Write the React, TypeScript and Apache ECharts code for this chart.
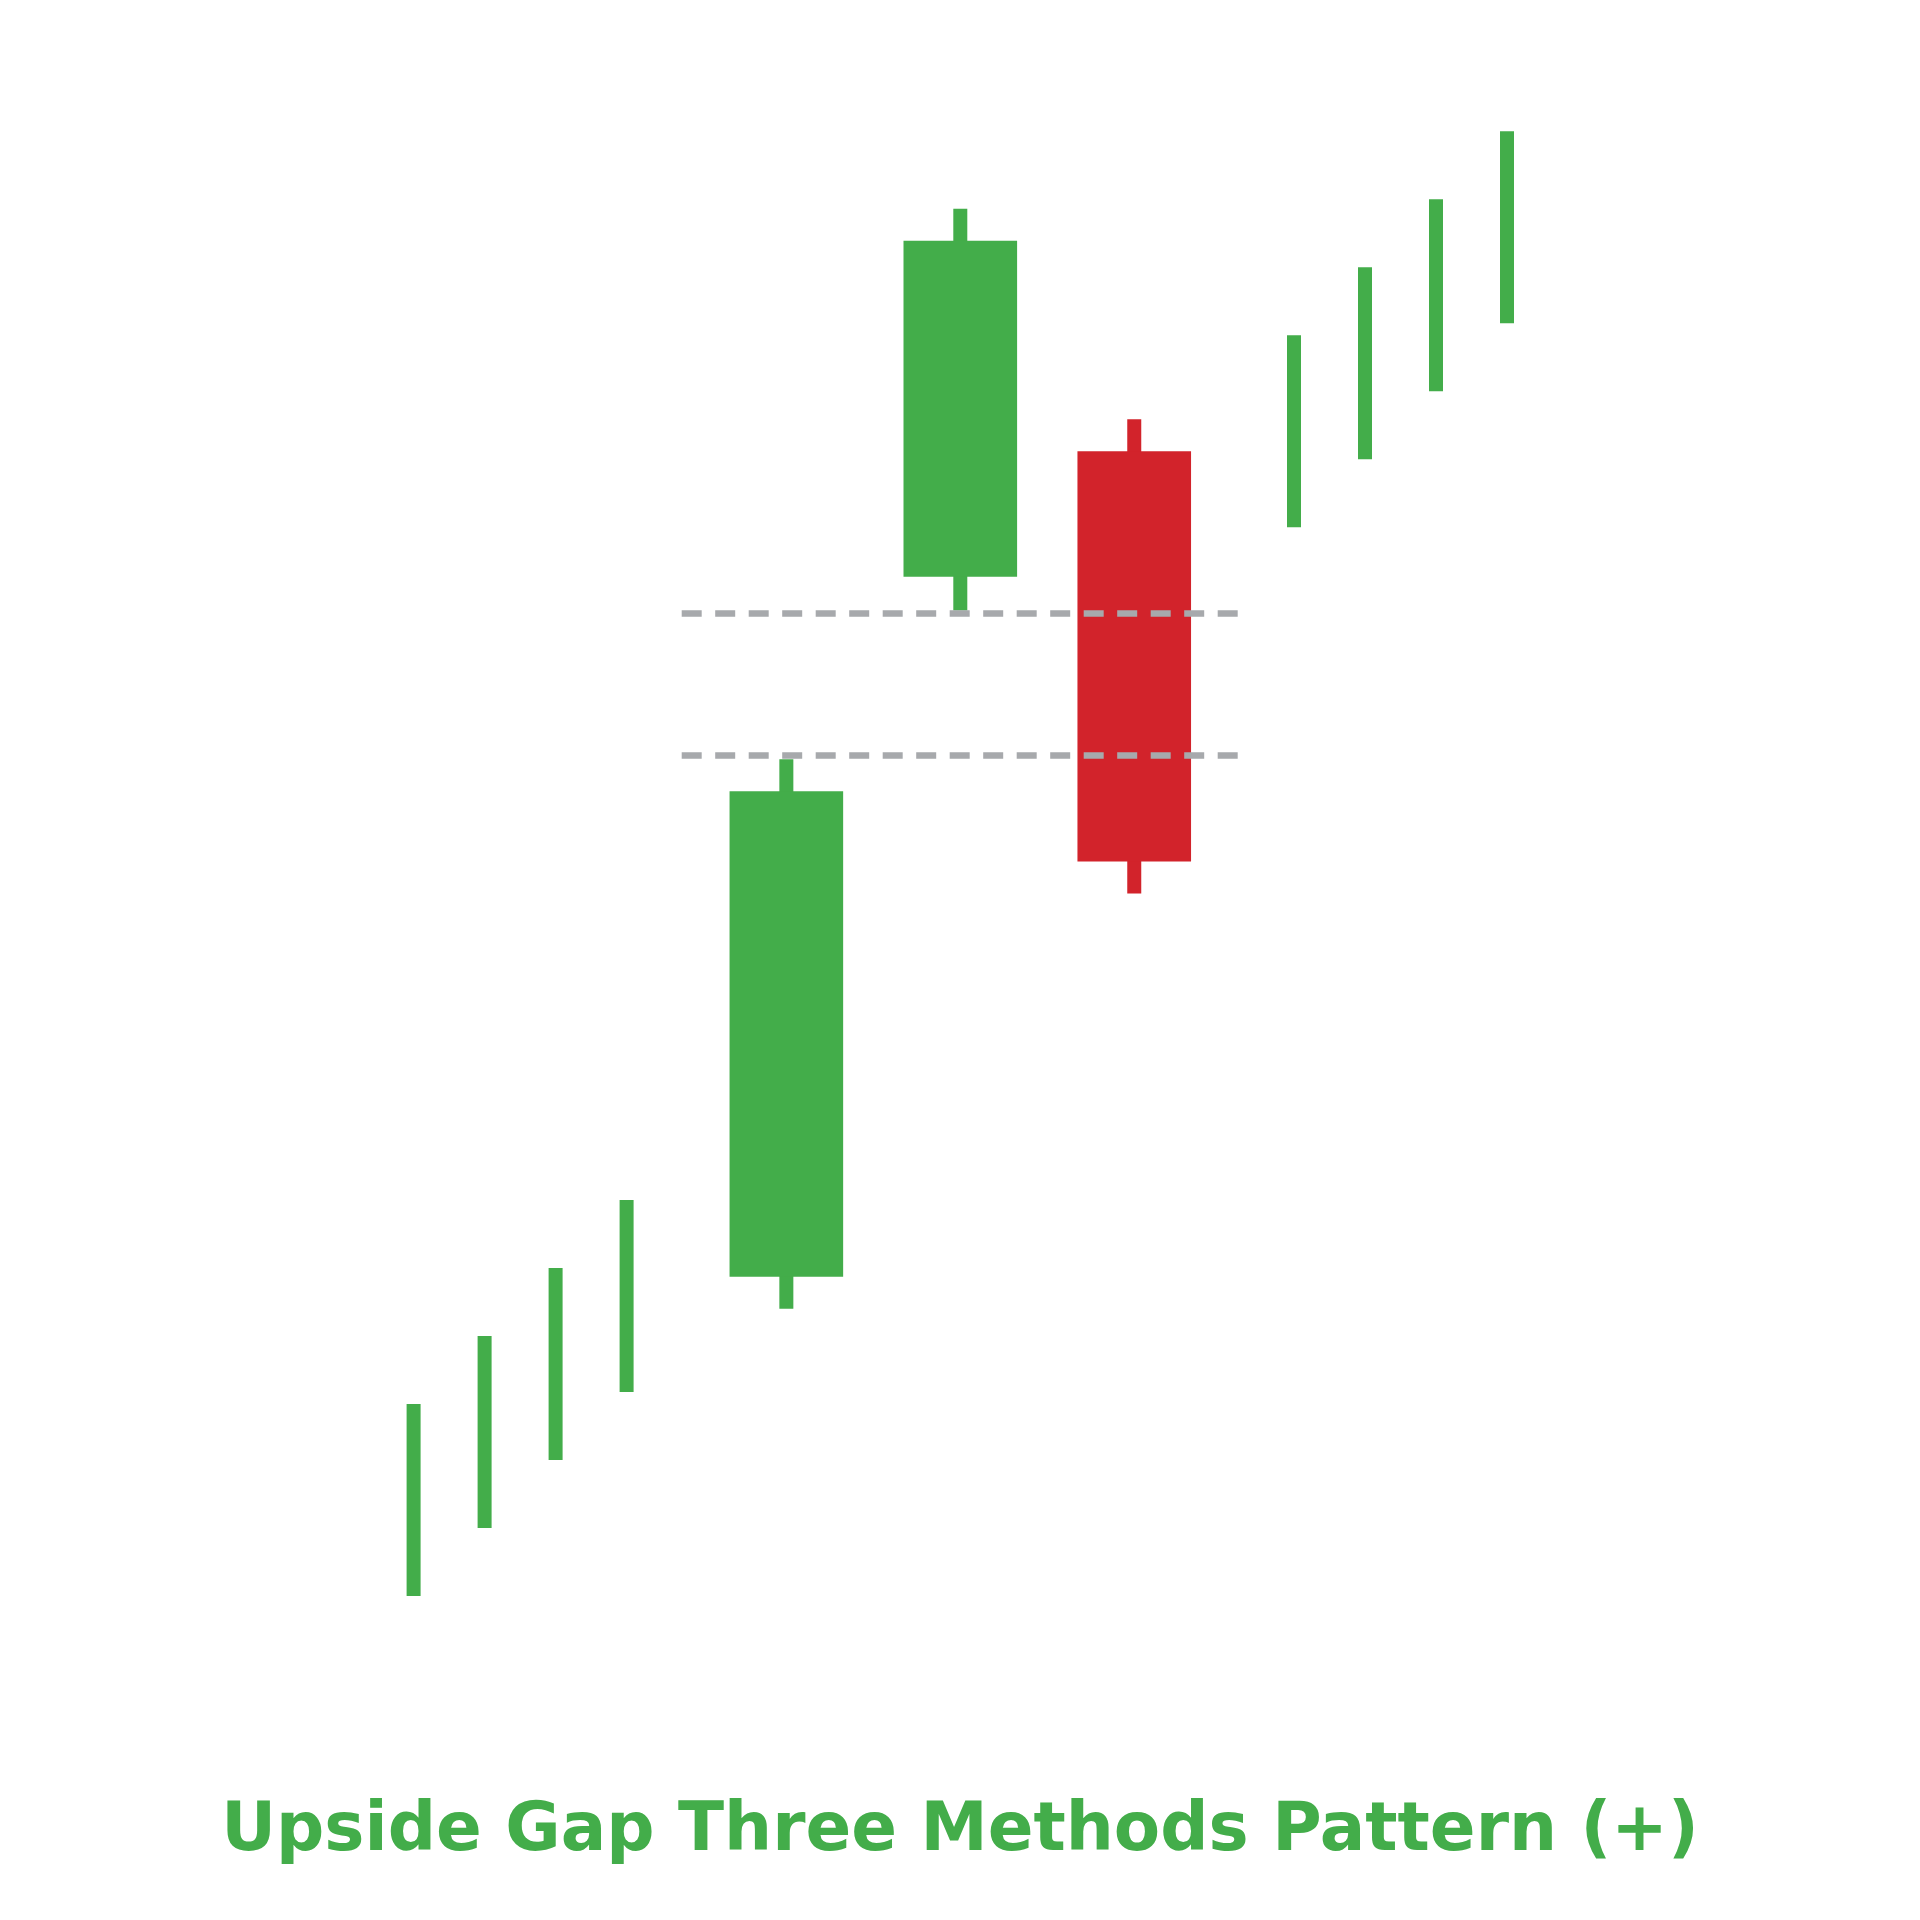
import React, { useEffect, useRef } from "react";
import * as echarts from "echarts";

// trend candles drawn as plain high-low lines
const trendX = [0, 1, 2, 3, 12.4, 13.4, 14.4, 15.4];
const trendLow = [6.5, 10.75, 15.0, 19.25, 73.3, 77.55, 81.8, 86.05];
const trendHigh = [18.5, 22.75, 27.0, 31.25, 85.3, 89.55, 93.8, 98.05];

// the three pattern candles
const patternX = [5.25, 7.7, 10.15];
const patternOpen = [26.45, 70.2, 78.05];
const patternClose = [56.8, 91.2, 52.4];
const patternLow = [24.45, 68.1, 50.4];
const patternHigh = [58.8, 93.2, 80.05];

// dashed gap levels
const gapLevels = [67.9, 59.05];
const gapFromX = 3.776;
const gapToX = 11.62;

const TITLE = "Upside Gap Three Methods Pattern (+)";
const GREEN = "#43ad4a";
const RED = "#d2232b";
const GRAY = "#a7a9ac";
const WICK = 14;

export default function App() {
  const ref = useRef<HTMLDivElement | null>(null);

  useEffect(() => {
    document.body.style.margin = "0";
    const chart = echarts.init(ref.current!, null, { renderer: "svg" });

    const trendData = trendX.map((x, i) => [x, trendLow[i], trendHigh[i]]);
    const patternData = patternX.map((x, i) => [
      x,
      patternOpen[i],
      patternClose[i],
      patternLow[i],
      patternHigh[i],
    ]);

    chart.setOption({
      animation: false,
      backgroundColor: "#ffffff",
      title: {
        text: TITLE,
        left: "center",
        top: 1787,
        textStyle: {
          fontFamily: "DejaVu Sans",
          fontWeight: "bold",
          fontSize: 67.5,
          color: GREEN,
        },
      },
      grid: { left: 342.6, width: 1278, top: 100, height: 1600 },
      xAxis: { type: "value", min: -1, max: 17, show: false },
      yAxis: { type: "value", min: 0, max: 100, show: false },
      series: [
        {
          type: "custom",
          data: trendData,
          encode: { x: 0, y: [1, 2] },
          renderItem: (params: any, api: any) => {
            const lo = api.coord([api.value(0), api.value(1)]);
            const hi = api.coord([api.value(0), api.value(2)]);
            return {
              type: "rect",
              shape: { x: lo[0] - WICK / 2, y: hi[1], width: WICK, height: lo[1] - hi[1] },
              style: { fill: GREEN },
            };
          },
        },
        {
          type: "custom",
          data: patternData,
          encode: { x: 0, y: [1, 2, 3, 4] },
          z: 2,
          renderItem: (params: any, api: any) => {
            const x = api.value(0);
            const open = api.value(1);
            const close = api.value(2);
            const lo = api.coord([x, api.value(3)]);
            const hi = api.coord([x, api.value(4)]);
            const o = api.coord([x, open]);
            const c = api.coord([x, close]);
            const bw = api.size([1.6, 0])[0];
            const fill = close >= open ? GREEN : RED;
            const top = Math.min(o[1], c[1]);
            return {
              type: "group",
              children: [
                {
                  type: "rect",
                  shape: { x: lo[0] - WICK / 2, y: hi[1], width: WICK, height: lo[1] - hi[1] },
                  style: { fill },
                },
                {
                  type: "rect",
                  shape: { x: o[0] - bw / 2, y: top, width: bw, height: Math.abs(o[1] - c[1]) },
                  style: { fill },
                },
              ],
            };
          },
          markLine: {
            silent: true,
            symbol: "none",
            z: 5,
            label: { show: false },
            lineStyle: { color: GRAY, width: 6.7, type: [20, 13.5], opacity: 1 },
            data: gapLevels.map((v) => [
              { coord: [gapFromX, v] },
              { coord: [gapToX, v] },
            ]),
          },
        },
      ],
    });

    return () => chart.dispose();
  }, []);

  return <div ref={ref} style={{ width: 1920, height: 1920 }} />;
}
